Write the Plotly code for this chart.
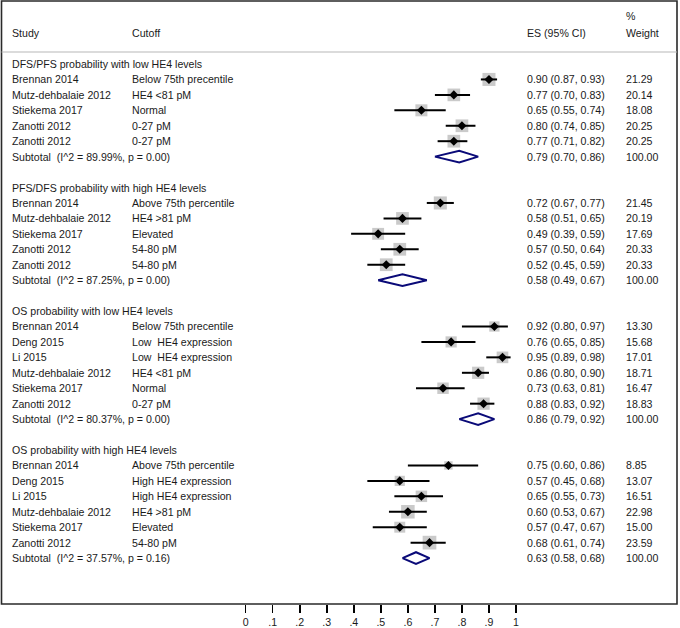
import plotly.graph_objects as go
import math

# ---------------- data ----------------
group_titles = [
    "DFS/PFS probability with low HE4 levels",
    "PFS/DFS probability with high HE4 levels",
    "OS probability with low HE4 levels",
    "OS probability with high HE4 levels",
]
g1_study = ["Brennan 2014", "Mutz-dehbalaie 2012", "Stiekema 2017", "Zanotti 2012", "Zanotti 2012"]
g1_cutoff = ["Below 75th precentile", "HE4 <81 pM", "Normal", "0-27 pM", "0-27 pM"]
g1_es = [0.90, 0.77, 0.65, 0.80, 0.77]
g1_lo = [0.87, 0.70, 0.55, 0.74, 0.71]
g1_hi = [0.93, 0.83, 0.74, 0.85, 0.82]
g1_w = [21.29, 20.14, 18.08, 20.25, 20.25]

g2_study = ["Brennan 2014", "Mutz-dehbalaie 2012", "Stiekema 2017", "Zanotti 2012", "Zanotti 2012"]
g2_cutoff = ["Above 75th percentile", "HE4 >81 pM", "Elevated", "54-80 pM", "54-80 pM"]
g2_es = [0.72, 0.58, 0.49, 0.57, 0.52]
g2_lo = [0.67, 0.51, 0.39, 0.50, 0.45]
g2_hi = [0.77, 0.65, 0.59, 0.64, 0.59]
g2_w = [21.45, 20.19, 17.69, 20.33, 20.33]

g3_study = ["Brennan 2014", "Deng 2015", "Li 2015", "Mutz-dehbalaie 2012", "Stiekema 2017", "Zanotti 2012"]
g3_cutoff = ["Below 75th precentile", "Low \u00a0HE4 expression", "Low \u00a0HE4 expression",
             "HE4 <81 pM", "Normal", "0-27 pM"]
g3_es = [0.92, 0.76, 0.95, 0.86, 0.73, 0.88]
g3_lo = [0.80, 0.65, 0.89, 0.80, 0.63, 0.83]
g3_hi = [0.97, 0.85, 0.98, 0.90, 0.81, 0.92]
g3_w = [13.30, 15.68, 17.01, 18.71, 16.47, 18.83]

g4_study = ["Brennan 2014", "Deng 2015", "Li 2015", "Mutz-dehbalaie 2012", "Stiekema 2017", "Zanotti 2012"]
g4_cutoff = ["Above 75th percentile", "High HE4 expression", "High HE4 expression",
             "HE4 >81 pM", "Elevated", "54-80 pM"]
g4_es = [0.75, 0.57, 0.65, 0.60, 0.57, 0.68]
g4_lo = [0.60, 0.45, 0.55, 0.53, 0.47, 0.61]
g4_hi = [0.86, 0.68, 0.73, 0.67, 0.67, 0.74]
g4_w = [8.85, 13.07, 16.51, 22.98, 15.00, 23.59]

sub_i2 = ["89.99", "87.25", "80.37", "37.57"]
sub_p = ["0.00", "0.00", "0.00", "0.16"]
sub_es = [0.79, 0.58, 0.86, 0.63]
sub_lo = [0.70, 0.49, 0.79, 0.58]
sub_hi = [0.86, 0.67, 0.92, 0.68]

tick_vals = [0, 0.1, 0.2, 0.3, 0.4, 0.5, 0.6, 0.7, 0.8, 0.9, 1]
tick_text = ["0", ".1", ".2", ".3", ".4", ".5", ".6", ".7", ".8", ".9", "1"]

groups = [
    (g1_study, g1_cutoff, g1_es, g1_lo, g1_hi, g1_w),
    (g2_study, g2_cutoff, g2_es, g2_lo, g2_hi, g2_w),
    (g3_study, g3_cutoff, g3_es, g3_lo, g3_hi, g3_w),
    (g4_study, g4_cutoff, g4_es, g4_lo, g4_hi, g4_w),
]

# ---------------- layout geometry ----------------
W, H = 680, 628
PLOT_BOTTOM = 604          # px, bottom of framed area
ROW0_PX, ROW_H = 64.0, 15.44
X0_PX, X1_PX = 245.7, 516.0  # px of value 0 and 1
scale = X1_PX - X0_PX
x_range = [(0 - X0_PX) / scale, (W - X0_PX) / scale]
y_range = [(PLOT_BOTTOM - ROW0_PX) / ROW_H, (0 - ROW0_PX) / ROW_H]

def px_x(p):
    return p / W

def px_y(p):
    return (PLOT_BOTTOM - p) / PLOT_BOTTOM

FONT = "Liberation Sans, Arial, Helvetica, sans-serif"
FS = 10.6
TXT = "#1a1a1a"
COL_STUDY, COL_CUT, COL_ES, COL_W = 10.5, 130.5, 525.5, 624.5

fig = go.Figure()
annotations = []

def add_text(xpx, row, text):
    annotations.append(dict(
        x=px_x(xpx), xref="paper", y=row, yref="y", text=text,
        xanchor="left", yanchor="middle", showarrow=False,
        font=dict(family=FONT, size=FS, color=TXT), borderpad=0))

# header
add_text(COL_STUDY, -2.0, "Study")
add_text(COL_CUT, -2.0, "Cutoff")
add_text(COL_ES, -2.0, "ES (95% CI)")
add_text(COL_W, -3.1, "%")
add_text(COL_W, -2.0, "Weight")

sq_x, sq_y, sq_s = [], [], []
ci_x, ci_y = [], []
pt_x, pt_y = [], []
dm_x, dm_y = [], []

row = 0
for gi, (st, cu, es, lo, hi, w) in enumerate(groups):
    add_text(COL_STUDY, row, group_titles[gi])
    row += 1
    for s, c, e, l, h, ww in zip(st, cu, es, lo, hi, w):
        add_text(COL_STUDY, row, s)
        add_text(COL_CUT, row, c)
        add_text(COL_ES, row, f"{e:.2f} ({l:.2f}, {h:.2f})")
        add_text(COL_W, row, f"{ww:.2f}")
        sq_x.append(e); sq_y.append(row); sq_s.append(2.82 * math.sqrt(ww))
        ci_x += [l, h, None]; ci_y += [row, row, None]
        pt_x.append(e); pt_y.append(row)
        row += 1
    add_text(COL_STUDY, row, f"Subtotal \u00a0(I^2 = {sub_i2[gi]}%, p = {sub_p[gi]})")
    add_text(COL_ES, row, f"{sub_es[gi]:.2f} ({sub_lo[gi]:.2f}, {sub_hi[gi]:.2f})")
    add_text(COL_W, row, "100.00")
    hh = 0.38
    dm_x += [sub_lo[gi], sub_es[gi], sub_hi[gi], sub_es[gi], sub_lo[gi], None]
    dm_y += [row, row - hh, row, row + hh, row, None]
    row += 2

fig.add_trace(go.Scatter(x=sq_x, y=sq_y, mode="markers",
                         marker=dict(symbol="square", size=sq_s, color="#b4b4b4", line=dict(width=0)),
                         hoverinfo="skip"))
fig.add_trace(go.Scatter(x=ci_x, y=ci_y, mode="lines",
                         line=dict(color="black", width=2), hoverinfo="skip"))
fig.add_trace(go.Scatter(x=pt_x, y=pt_y, mode="markers",
                         marker=dict(symbol="diamond", size=7, color="black"), hoverinfo="skip"))
fig.add_trace(go.Scatter(x=dm_x, y=dm_y, mode="lines",
                         line=dict(color="#0a0a78", width=2), hoverinfo="skip"))

shapes = [
    dict(type="rect", xref="paper", yref="paper",
         x0=px_x(1.5), x1=px_x(677), y0=px_y(604), y1=px_y(1.0),
         line=dict(color="#2a2a2a", width=1.6), layer="above"),
    dict(type="line", xref="paper", yref="paper",
         x0=px_x(1.5), x1=px_x(677), y0=px_y(52), y1=px_y(52),
         line=dict(color="#b8b8b8", width=1.2)),
]

fig.update_layout(
    width=W, height=H,
    margin=dict(l=0, r=0, t=0, b=H - PLOT_BOTTOM, pad=0),
    paper_bgcolor="white", plot_bgcolor="white",
    showlegend=False,
    annotations=annotations, shapes=shapes,
    xaxis=dict(range=x_range, tickvals=tick_vals, ticktext=tick_text,
               ticks="outside", ticklen=8, tickwidth=1.5, tickcolor="black",
               showgrid=False, zeroline=False, showline=False, automargin=False,
               tickfont=dict(family=FONT, size=FS, color=TXT)),
    yaxis=dict(range=y_range, showgrid=False, zeroline=False, showline=False,
               showticklabels=False, ticks="", automargin=False),
)

fig.write_html(
    "out.html",
    config={"displayModeBar": False, "staticPlot": True},
    post_script="document.body.style.margin='0';document.body.style.padding='0';"
                "document.body.style.overflow='hidden';",
)
